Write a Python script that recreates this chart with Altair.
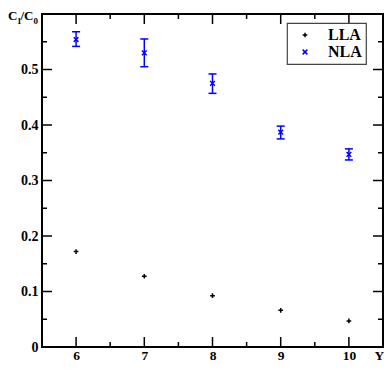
import altair as alt
import pandas as pd

# ---- data ----
x_vals = [6, 7, 8, 9, 10]
lla_vals = [0.172, 0.1275, 0.0925, 0.066, 0.047]
nla_vals = [0.554, 0.530, 0.475, 0.387, 0.347]
nla_lo = [0.5416, 0.505, 0.457, 0.375, 0.337]
nla_hi = [0.568, 0.555, 0.492, 0.398, 0.357]
series_names = ["LLA", "NLA"]
series_colors = ["black", "blue"]

x_major = [6, 7, 8, 9, 10]
x_minor = [6.5, 7.5, 8.5, 9.5]
y_major = [0.1, 0.2, 0.3, 0.4, 0.5]
y_minor = [0.05, 0.15, 0.25, 0.35, 0.45, 0.55]
y_labels = [0, 0.1, 0.2, 0.3, 0.4, 0.5]

W, H = 341, 333
FONT = "Liberation Serif"

PLUS = "M-1,0L1,0M0,-1L0,1"
CROSS = "M-1,-1L1,1M-1,1L1,-1"

xs = alt.Scale(domain=[5.5, 10.5], nice=False, zero=False)
ys = alt.Scale(domain=[0, 0.6], nice=False, zero=False)

x_axis = alt.Axis(values=x_major, ticks=False, domain=False, grid=False,
                  labelFont=FONT, labelFontWeight="bold", labelFontSize=13.5,
                  labelColor="black", labelPadding=12, labelBaseline="alphabetic",
                  labelFlush=False,
                  title="Y", titleFont=FONT, titleFontWeight="bold",
                  titleFontSize=13.5, titleColor="black", titleX=332, titleY=12,
                  titleAlign="left", titleBaseline="alphabetic", titleAngle=0)
y_axis = alt.Axis(values=y_labels, ticks=False, domain=False, grid=False,
                  labelFont=FONT, labelFontWeight="bold", labelFontSize=14,
                  labelColor="black", labelPadding=4, labelFlush=False,
                  labelExpr="datum.value == 0 ? '0' : format(datum.value, '.1f')",
                  title=None)

rows = []
for xv, v in zip(x_vals, lla_vals):
    rows.append({"x": xv, "value": v, "series": "LLA"})
for xv, v in zip(x_vals, nla_vals):
    rows.append({"x": xv, "value": v, "series": "NLA"})
df = pd.DataFrame(rows)

err = pd.DataFrame({"x": x_vals, "lo": nla_lo, "hi": nla_hi})

points = alt.Chart(df).mark_point(filled=False, strokeWidth=1.5, size=22, opacity=1).encode(
    x=alt.X("x:Q", scale=xs, axis=x_axis),
    y=alt.Y("value:Q", scale=ys, axis=y_axis),
    color=alt.Color("series:N", scale=alt.Scale(domain=series_names, range=series_colors),
                    legend=alt.Legend(title=None)),
    shape=alt.Shape("series:N", scale=alt.Scale(domain=series_names, range=[PLUS, CROSS]),
                    legend=alt.Legend(title=None)),
)

err_bar = alt.Chart(err).mark_rule(color="blue", strokeWidth=1.5).encode(
    x=alt.X("x:Q", scale=xs, axis=x_axis),
    y=alt.Y("lo:Q", scale=ys, axis=y_axis),
    y2="hi:Q",
)
cap_lo = alt.Chart(err).mark_rule(color="blue", strokeWidth=1.5, xOffset=-4, x2Offset=4).encode(
    x=alt.X("x:Q", scale=xs, axis=x_axis), x2="x:Q",
    y=alt.Y("lo:Q", scale=ys, axis=y_axis),
)
cap_hi = alt.Chart(err).mark_rule(color="blue", strokeWidth=1.5, xOffset=-4, x2Offset=4).encode(
    x=alt.X("x:Q", scale=xs, axis=x_axis), x2="x:Q",
    y=alt.Y("hi:Q", scale=ys, axis=y_axis),
)


def xticks(vals, length, top):
    d = pd.DataFrame({"v": vals})
    if top:
        y0, y1 = 0, length
    else:
        y0, y1 = H, H - length
    return alt.Chart(d).mark_rule(color="black", strokeWidth=1.5).encode(
        x=alt.X("v:Q", scale=xs, axis=x_axis), y=alt.value(y0), y2=alt.value(y1))


def yticks(vals, length, right):
    d = pd.DataFrame({"v": vals})
    if right:
        x0, x1 = W, W - length
    else:
        x0, x1 = 0, length
    return alt.Chart(d).mark_rule(color="black", strokeWidth=1.5).encode(
        y=alt.Y("v:Q", scale=ys, axis=y_axis), x=alt.value(x0), x2=alt.value(x1))


tick_layers = [
    xticks(x_major, 10, False), xticks(x_minor, 5, False),
    xticks(x_major, 10, True), xticks(x_minor, 5, True),
    yticks(y_major, 10, False), yticks(y_minor, 5, False),
    yticks(y_major, 10, True), yticks(y_minor, 5, True),
]


def label(text, x, y, size):
    return alt.Chart(pd.DataFrame({"t": [text]})).mark_text(
        font=FONT, fontWeight="bold", fontSize=size, align="left",
        baseline="alphabetic", color="black").encode(
        text="t:N", x=alt.value(x), y=alt.value(y))


ytitle = [
    label("C", -34, 6, 13),
    label("1", -25, 10, 9),
    label("/C", -21.5, 6, 13),
    label("0", -8.5, 10, 9),
]

chart = alt.layer(*tick_layers, err_bar, cap_lo, cap_hi, points, *ytitle).properties(
    width=W, height=H,
    autosize=alt.AutoSizeParams(type="none"),
    padding={"left": 34, "top": 6, "right": 1, "bottom": 16},
).configure_view(
    stroke="black", strokeWidth=2
).configure_legend(
    orient="none", legendX=245, legendY=9,
    strokeColor="#444", strokeWidth=1.2, fillColor="white", padding=4,
    labelFont=FONT, labelFontWeight="bold", labelFontSize=16, labelColor="black",
    symbolSize=22, symbolStrokeWidth=1.5, symbolOffset=6, labelOffset=15,
    rowPadding=1, cornerRadius=0,
)

chart.save("out.html", embed_options={"renderer": "svg", "actions": False})
